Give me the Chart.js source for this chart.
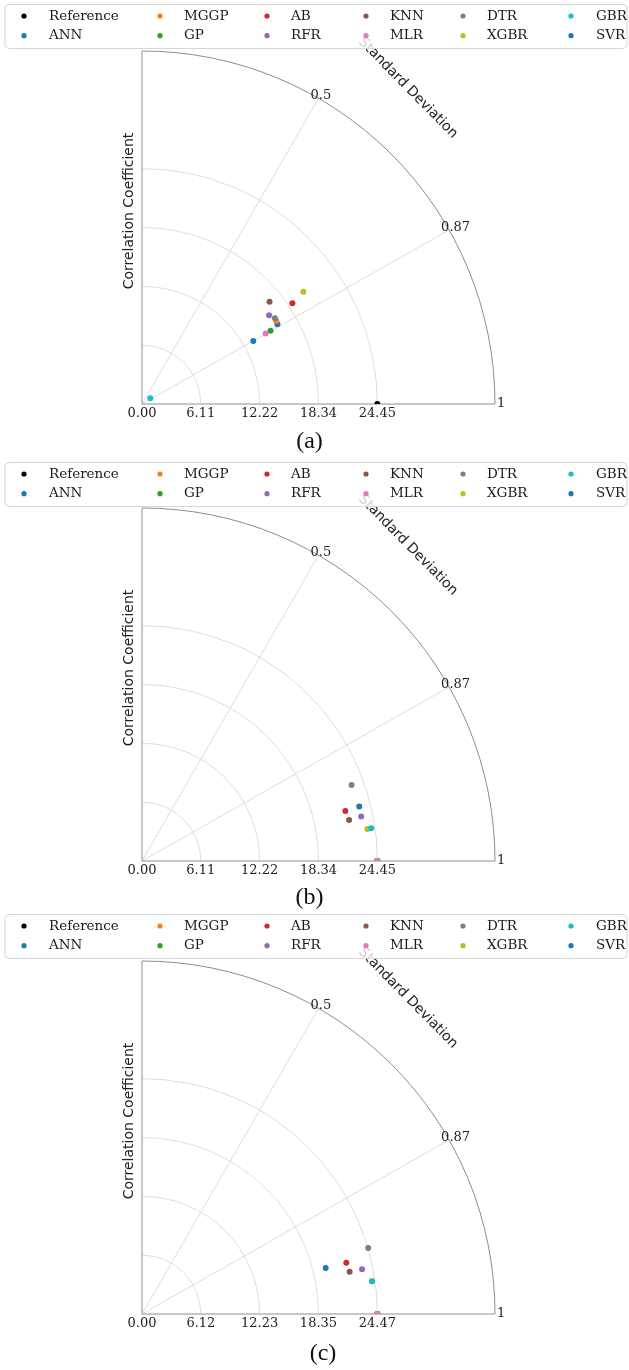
<!DOCTYPE html>
<html>
<head>
<meta charset="utf-8">
<script src="https://cdn.jsdelivr.net/npm/chart.js@4.4.1/dist/chart.umd.min.js"></script>
<style>
  html, body { margin: 0; padding: 0; background: #fff; }
  body { width: 629px; height: 1370px; position: relative; overflow: hidden; }
  canvas { position: absolute; left: 0; }
</style>
</head>
<body>
<canvas id="taylor-a" width="629" height="458" style="top:0px"></canvas>
<canvas id="taylor-b" width="629" height="452" style="top:458px"></canvas>
<canvas id="taylor-c" width="629" height="460" style="top:910px"></canvas>
<script>
// 模型名称（图例顺序即绘制顺序）
const models = ['Reference', 'ANN', 'MGGP', 'GP', 'AB', 'RFR', 'KNN', 'MLR', 'DTR', 'XGBR', 'GBR', 'SVR'];

// (a) 标准差 / 相关系数
const stdA  = [24.45, 16.32, 16.40, 15.37, 18.80, 16.10, 16.99, 14.78, 16.44, 20.42, 1.05, 13.29];
const corrA = [1.000, 0.862, 0.851, 0.869, 0.831, 0.820, 0.780, 0.869, 0.840, 0.821, 0.820, 0.870];

// (b)
const stdB  = [24.45, 24.45, 24.45, 24.45, 21.76, 23.24, 21.93, 24.45, 23.16, 23.65, 24.06, 23.27];
const corrB = [1.000, 1.000, 1.000, 1.000, 0.971, 0.980, 0.981, 1.000, 0.940, 0.990, 0.990, 0.970];

// (c)
const stdC  = [24.47, 24.47, 24.47, 24.47, 21.90, 23.35, 22.03, 24.47, 24.50, 24.16, 24.16, 19.69];
const corrC = [1.000, 1.000, 1.000, 1.000, 0.970, 0.980, 0.980, 1.000, 0.960, 0.990, 0.990, 0.970];

// 标准差刻度
const ticksA = [0, 6.11, 12.22, 18.34, 24.45];
const ticksB = [0, 6.11, 12.22, 18.34, 24.45];
const ticksC = [0, 6.12, 12.23, 18.35, 24.47];

// 相关系数刻度
const corrTicks = [0.5, 0.87, 1];
const captions = ['(a)', '(b)', '(c)'];

// matplotlib tab10 颜色
const colors = ['#000000', '#1f77b4', '#ff7f0e', '#2ca02c', '#d62728', '#9467bd',
                '#8c564b', '#e377c2', '#7f7f7f', '#bcbd22', '#17becf', '#1f77b4'];

// 图例列位置
const legendMarkerX = [24, 160, 267, 366, 463, 571];
const legendTextX   = [49, 184, 291, 390, 487, 596];

const SERIF = '"DejaVu Serif", serif';
const SANS = '"DejaVu Sans", sans-serif';

/**
 * 泰勒图网格、标签和图例
 */
const taylorPlugin = {
  id: 'taylor',
  beforeDatasetsDraw(chart, args, opts) {
    const { ctx, scales: { x, y } } = chart;
    const x0 = x.getPixelForValue(0);
    const y0 = y.getPixelForValue(0);
    const R = x.getPixelForValue(x.max) - x0;
    ctx.save();
    // 标准差圆弧
    ctx.strokeStyle = '#dddddd';
    ctx.lineWidth = 1;
    opts.ticks.slice(1).forEach(t => {
      const r = x.getPixelForValue(t) - x0;
      ctx.beginPath();
      ctx.arc(x0, y0, r, -Math.PI / 2, 0);
      ctx.stroke();
    });
    // 相关系数射线
    corrTicks.forEach(c => {
      if (c >= 1) return;
      const a = Math.acos(c);
      ctx.beginPath();
      ctx.moveTo(x0, y0);
      ctx.lineTo(x0 + R * Math.cos(a), y0 - R * Math.sin(a));
      ctx.stroke();
    });
    // 外圈
    ctx.strokeStyle = '#8c8c8c';
    ctx.beginPath();
    ctx.arc(x0, y0, R, -Math.PI / 2, 0);
    ctx.stroke();
    // 坐标轴
    ctx.strokeStyle = '#b5b5b5';
    ctx.lineWidth = 1.5;
    ctx.beginPath();
    ctx.moveTo(x0, y0 - R);
    ctx.lineTo(x0, y0);
    ctx.lineTo(x0 + R, y0);
    ctx.stroke();
    ctx.restore();
  },
  afterDraw(chart, args, opts) {
    const { ctx, scales: { x, y } } = chart;
    const x0 = x.getPixelForValue(0);
    const y0 = y.getPixelForValue(0);
    const R = x.getPixelForValue(x.max) - x0;
    ctx.save();
    ctx.fillStyle = '#222222';

    // 标准差刻度标签
    ctx.font = '13px ' + SERIF;
    ctx.textAlign = 'center';
    ctx.textBaseline = 'top';
    opts.ticks.forEach(t => {
      ctx.fillText(t.toFixed(2), x.getPixelForValue(t), y0 + 3);
    });

    // 相关系数标签
    corrTicks.forEach(c => {
      const a = Math.acos(c);
      const px = x0 + R * Math.cos(a);
      const py = y0 - R * Math.sin(a);
      ctx.textAlign = 'left';
      if (c >= 1) {
        ctx.textBaseline = 'middle';
        ctx.fillText(String(c), px + 2, py);
      } else {
        ctx.textBaseline = 'alphabetic';
        ctx.fillText(String(c), px - 8, py + 1);
      }
    });

    // 轴标题
    ctx.font = '14px ' + SANS;
    ctx.textAlign = 'center';
    ctx.textBaseline = 'middle';
    ctx.save();
    ctx.translate(x0 - 13, y0 - 193);
    ctx.rotate(-Math.PI / 2);
    ctx.fillText('Correlation Coefficient', 0, 0);
    ctx.restore();
    ctx.save();
    ctx.translate(x0 + 266, y0 - 316);
    ctx.rotate(45.5 * Math.PI / 180);
    ctx.fillText('Standard Deviation', 0, 0);
    ctx.restore();

    // 子图编号
    ctx.font = '24px "Liberation Serif", serif';
    ctx.fillStyle = '#111111';
    ctx.fillText(opts.caption, opts.captionX, y0 + opts.captionDy);

    // 图例
    ctx.beginPath();
    ctx.roundRect(5, 4.5, 622, 44, 4);
    ctx.fillStyle = 'rgba(255,255,255,0.8)';
    ctx.fill();
    ctx.strokeStyle = '#d6d6d6';
    ctx.lineWidth = 1;
    ctx.stroke();
    ctx.font = '13.5px ' + SERIF;
    ctx.textAlign = 'left';
    ctx.textBaseline = 'middle';
    chart.data.datasets.forEach((ds, i) => {
      const col = Math.floor(i / 2);
      const rowY = i % 2 === 0 ? 16 : 35.7;
      ctx.fillStyle = ds.backgroundColor;
      ctx.beginPath();
      ctx.arc(legendMarkerX[col], rowY, 2.6, 0, Math.PI * 2);
      ctx.fill();
      ctx.fillStyle = '#1a1a1a';
      ctx.fillText(ds.label, legendTextX[col], rowY);
    });
    ctx.restore();
  }
};

/**
 * 创建一个泰勒图
 */
function makeTaylor(canvasId, std, corr, ticks, caption, originY, captionX, captionDy) {
  const canvas = document.getElementById(canvasId);
  const rMax = ticks[ticks.length - 1] * 1.5;
  const datasets = models.map((name, i) => ({
    label: name,
    data: [{ x: std[i] * corr[i], y: std[i] * Math.sqrt(Math.max(0, 1 - corr[i] * corr[i])) }],
    backgroundColor: colors[i],
    pointRadius: 3,
    pointBorderWidth: 0,
    clip: 0,
    // 后面的模型画在上面
    order: models.length - i
  }));
  return new Chart(canvas.getContext('2d'), {
    type: 'scatter',
    data: { datasets },
    options: {
      responsive: false,
      animation: false,
      events: [],
      layout: {
        padding: { left: 142, right: 629 - 495, top: originY - 353, bottom: canvas.height - originY }
      },
      scales: {
        x: { type: 'linear', min: 0, max: rMax, display: false },
        y: { type: 'linear', min: 0, max: rMax, display: false }
      },
      plugins: {
        legend: { display: false },
        tooltip: { enabled: false },
        taylor: { ticks, caption, captionX, captionDy }
      }
    },
    plugins: [taylorPlugin]
  });
}

makeTaylor('taylor-a', stdA, corrA, ticksA, captions[0], 404, 309.5, 38);
makeTaylor('taylor-b', stdB, corrB, ticksB, captions[1], 403, 309.5, 37);
makeTaylor('taylor-c', stdC, corrC, ticksC, captions[2], 404, 323, 40);
</script>
</body>
</html>
